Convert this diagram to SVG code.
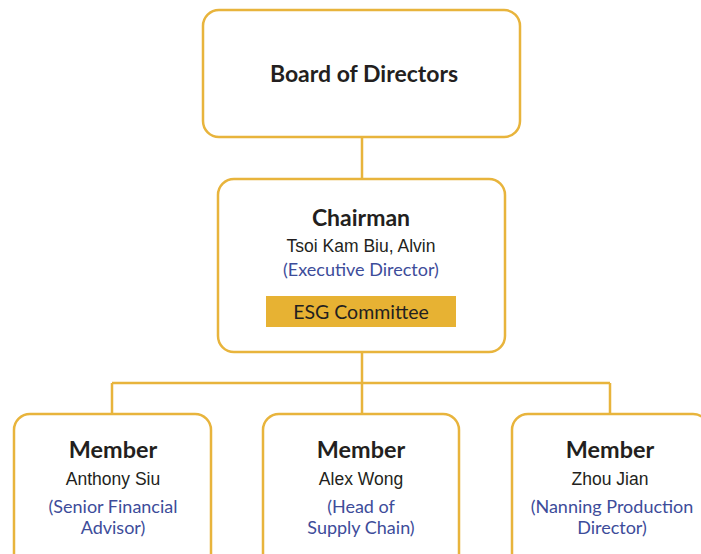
<svg xmlns="http://www.w3.org/2000/svg" width="701" height="554" viewBox="0 0 701 554">
<style>
.box{fill:#fff;stroke:#E8B43C;stroke-width:2.5}
.ln{fill:none;stroke:#E8B43C;stroke-width:2.5}
.h{font-family:Lato,"Open Sans",sans-serif;font-weight:bold;fill:#231F20;text-anchor:middle}
.n{font-family:"Liberation Sans",Arial,sans-serif;fill:#231F20;text-anchor:middle;font-size:17.5px}
.b{font-family:Lato,"Liberation Sans",sans-serif;fill:#3D4C9A;text-anchor:middle;font-size:18px}
</style>
<rect width="701" height="554" fill="#fff"/>
<g id="connectors">
<path class="ln" d="M362 137V179M362 352V383M112 383H610M112 383V414M362 383V414M610 383V414"/>
</g>
<g id="board">
<rect class="box" x="203" y="10" width="317" height="127" rx="16"/>
<text class="h" x="364" y="82" font-size="23">Board of Directors</text>
</g>
<g id="chairman">
<rect class="box" x="218" y="179" width="287" height="173" rx="16"/>
<text class="h" x="361" y="226" font-size="23">Chairman</text>
<text class="n" x="361" y="252">Tsoi Kam Biu, Alvin</text>
<text class="b" x="361" y="276">(Executive Director)</text>
<rect x="266" y="296" width="190" height="31" fill="#E7B233"/>
<text x="361" y="319" font-family="Lato,'Open Sans',sans-serif" font-size="19.5" fill="#231F20" text-anchor="middle">ESG Committee</text>
</g>
<g id="member1">
<rect class="box" x="14" y="414" width="197" height="160" rx="16"/>
<text class="h" x="113" y="458" font-size="23.4">Member</text>
<text class="n" x="113" y="485">Anthony Siu</text>
<text class="b" x="113" y="513">(Senior Financial</text>
<text class="b" x="113" y="534">Advisor)</text>
</g>
<g id="member2">
<rect class="box" x="263" y="414" width="196" height="160" rx="16"/>
<text class="h" x="361" y="458" font-size="23.4">Member</text>
<text class="n" x="361" y="485">Alex Wong</text>
<text class="b" x="361" y="513">(Head of</text>
<text class="b" x="361" y="534">Supply Chain)</text>
</g>
<g id="member3">
<rect class="box" x="512" y="414" width="197" height="160" rx="16"/>
<text class="h" x="610" y="458" font-size="23.4">Member</text>
<text class="n" x="610" y="485">Zhou Jian</text>
<text class="b" x="612" y="513">(Nanning Production</text>
<text class="b" x="612" y="534">Director)</text>
</g>
</svg>
